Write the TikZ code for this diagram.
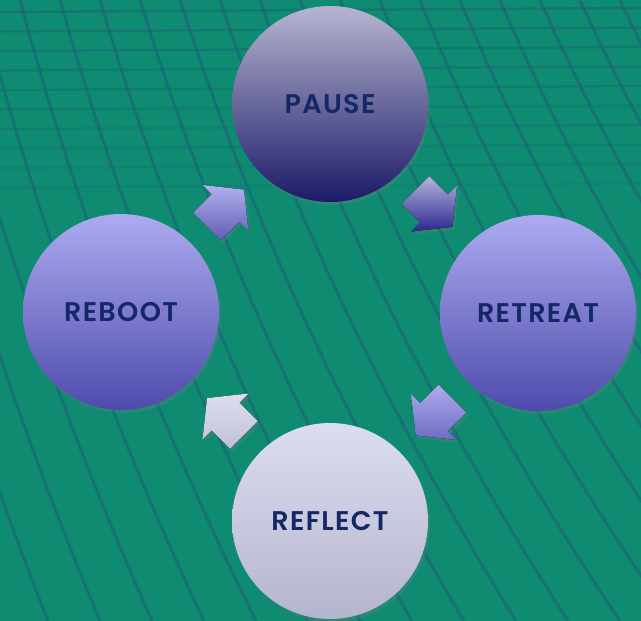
\documentclass[tikz,border=0pt]{standalone}
\usepackage{fontspec}
\setmainfont{Poppins}[BoldFont={Poppins SemiBold}]
\usetikzlibrary{calc,shadows}

\definecolor{sea}{RGB}{14,139,112}
\definecolor{mesh}{RGB}{32,88,122}
\definecolor{ink}{RGB}{20,40,102}

% block arrow: centre, direction, top colour, bottom colour
\newcommand\turnarrow[4]{%
  \fill[turn shade, top color=#3, bottom color=#4]
    ($(#1)+(#2:26)$) -- ($(#1)+(#2+90:32.5)$) -- ($(#1)+(#2+90:19.5)$)
    -- ($(#1)+(#2+90:19.5)+(#2:-26)$) -- ($(#1)+(#2-90:19.5)+(#2:-26)$)
    -- ($(#1)+(#2-90:19.5)$) -- ($(#1)+(#2-90:32.5)$) -- cycle;}

\begin{document}
\begin{tikzpicture}
  [x=1pt, y=-1pt,
   mesh line/.style={draw=mesh, line width=3pt, opacity=0.5},
   stage/.style={circle, minimum size=196pt, inner sep=0pt, text=ink,
     font=\fontsize{27}{30}\selectfont\bfseries\addfontfeatures{LetterSpace=5},
     drop shadow={opacity=0.25, shadow xshift=2pt, shadow yshift=-3pt}},
   turn shade/.style={drop shadow={opacity=0.25, shadow xshift=2pt, shadow yshift=-3pt}}]
  \useasboundingbox (0,0) rectangle (641,621);
  \fill[sea] (0,0) rectangle (641,621);
  % background mesh
  \begin{scope}
    \clip (0,0) rectangle (641,621);
    \foreach \k in {0,...,9}
      \draw[mesh line, line width=2.5pt, opacity={0.38-0.025*\k}] (0,{12+19.5*\k}) -- (641,{8+19.5*\k});
    \foreach \i in {0,...,21} {
      \pgfmathsetmacro\t{-180+40*\i}
      \pgfmathsetmacro\b{1.3*\t+230}
      \draw[mesh line] (\t,0) .. controls ({\t+0.2333*(\b-\t)},207) and ({\t+0.5667*(\b-\t)},414) .. (\b,621);
    }
  \end{scope}

  % the four stages
  \node[stage, top color={rgb,255:red,182;green,181;blue,208}, middle color={rgb,255:red,140;green,139;blue,172},
    bottom color={rgb,255:red,28;green,26;blue,104}] (pause) at (330,104) {PAUSE};
  \node[stage, top color={rgb,255:red,173;green,171;blue,240}, middle color={rgb,255:red,150;green,148;blue,224},
    bottom color={rgb,255:red,78;green,75;blue,172}] (retreat) at (538,313) {RETREAT};
  \node[stage, top color={rgb,255:red,221;green,221;blue,240},
    bottom color={rgb,255:red,180;green,180;blue,206}] (reflect) at (330,521) {REFLECT};
  \node[stage, top color={rgb,255:red,173;green,171;blue,240}, middle color={rgb,255:red,150;green,148;blue,224},
    bottom color={rgb,255:red,78;green,75;blue,172}] (reboot) at (121,312) {REBOOT};

  % arrows between them
  \coordinate (a1) at ($(pause)!0.5!(retreat)$);
  \coordinate (a2) at ($(retreat)!0.5!(reflect)$);
  \coordinate (a3) at ($(reflect)!0.5!(reboot)$);
  \coordinate (a4) at ($(reboot)!0.5!(pause)$);
  \turnarrow{a1}{45}{{rgb,255:red,182;green,180;blue,218}}{{rgb,255:red,44;green,40;blue,144}}
  \turnarrow{a2}{135}{{rgb,255:red,174;green,172;blue,238}}{{rgb,255:red,110;green,106;blue,198}}
  \turnarrow{a3}{225}{{rgb,255:red,222;green,222;blue,240}}{{rgb,255:red,192;green,192;blue,216}}
  \turnarrow{a4}{-45}{{rgb,255:red,178;green,176;blue,238}}{{rgb,255:red,96;green,93;blue,182}}
\end{tikzpicture}
\end{document}
